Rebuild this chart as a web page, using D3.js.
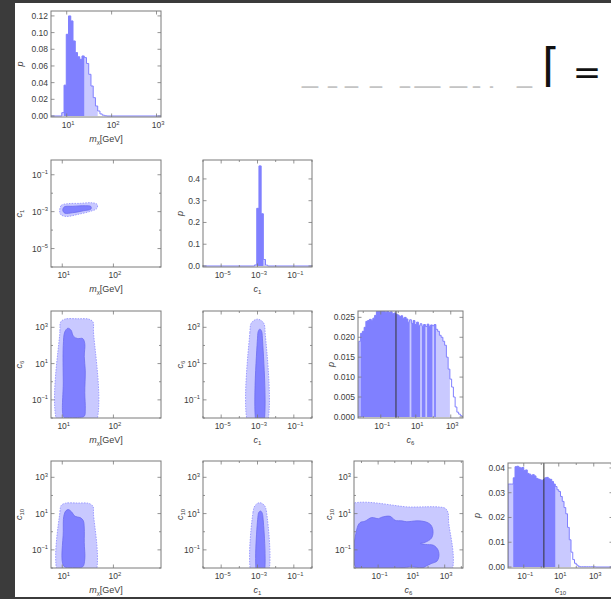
<!DOCTYPE html>
<meta charset="utf-8">
<style>
html, body { margin: 0; padding: 0; background: #fff; }
svg { display: block; font-family: 'Liberation Sans', Arial, sans-serif; }
</style>
<body>
<svg id="chart" width="611" height="599"></svg>
<script src="https://d3js.org/d3.v7.min.js"></script>
<script>
// ---------- data (log10 of the parameters) ----------
// 1D marginals: bin start, bin width (decades), probability, region (2 = 68%, 1 = 95%, 0 = tail)
var mxHistStart = 0.89, mxHistStep = 0.05;
var mxHistP = [0.004, 0.037, 0.098, 0.120, 0.114, 0.090, 0.076, 0.071, 0.068, 0.072,
               0.070, 0.063, 0.050, 0.036, 0.022, 0.012, 0.006, 0.0025, 0.001, 0.0003];
var mxHistLevel = [1,2,2,2,2,2,2,2,2,2, 1,1,1,1,1,1,0,0,0,0];

var c1HistStart = -3.16, c1HistStep = 0.12;
var c1HistP = [0.005, 0.265, 0.46, 0.24, 0.03, 0.004];
var c1HistLevel = [1,2,2,2,1,0];

var c6HistStart = -2.25, c6HistStep = 0.1;
var c6HistP = [19, 21, 21.5, 22.5, 24, 24.2, 24.5, 24.3, 24.8, 25.5,
               26.5, 27, 26.8, 26.6, 27, 26.3, 26.6, 26.2, 26.4, 25.9,
               26.1, 25.8, 25.6, 25.2, 25.4, 24.8, 25, 24.6, 23.8, 24.4,
               23.5, 24.2, 23.2, 23.8, 22.9, 23.4, 22.8, 23.2, 22.7, 23.3,
               22.8, 23.1, 22.9, 23.2, 22, 21.5, 20.5, 20, 19, 18,
               15, 12, 9.5, 7.5, 5, 2.5, 1.2, 0.7, 0.3, 0.1].map(function(v){ return v / 1000; });
var c6HistLevel = [1,2,2,2,2,2,2,2,2,2, 2,2,2,2,2,2,2,2,2,2, 2,2,2,2,2,2,2,2,2,1,
                   2,2,2,2,2,1,2,2,1,2, 2,2,1,2,1,1,1,1,1,1, 1,1,0,0,0,0,0,0,0,0];
var c6Best = -0.13;

var c10HistStart = -1.9, c10HistStep = 0.1;
var c10HistP = [33.5, 33.5, 33.5, 36, 40.5, 40.7, 40.3, 40, 40.2, 39,
                39.2, 37.8, 37.5, 37, 37.3, 36.8, 35.8, 35.5, 35.2, 35,
                35.3, 36, 36.2, 35.6, 35.4, 34.5, 33.5, 32.5, 31.2, 30.5,
                28.5, 26.5, 24, 21.5, 16, 11, 6, 3, 1.5, 0.8,
                0.3, 0.1, 0.1, 0.1, 0.1, 0.1, 0.1, 0.1, 0.1, 0.1].map(function(v){ return v / 1000; });
var c10HistLevel = [1,1,1,2,2,2,2,2,2,2, 2,2,2,2,2,2,2,2,2,2, 2,2,2,2,2,2,2,1,1,1,
                    1,1,1,1,1,1,0,0,0,0, 0,0,0,0,0,0,0,0,0,0];
var c10Best = 0.15;

// 2D credible regions, outer = 95%, inner = 68% : [log x, log y]
var mxC1Outer = [[0.95,-2.95],[0.98,-2.66],[1.1,-2.57],[1.35,-2.55],[1.58,-2.52],[1.68,-2.6],
                 [1.68,-2.82],[1.55,-2.98],[1.3,-3.15],[1.08,-3.26],[0.97,-3.16]];
var mxC1Inner = [[1.01,-2.92],[1.04,-2.74],[1.2,-2.71],[1.45,-2.68],[1.56,-2.72],[1.56,-2.86],
                 [1.42,-2.95],[1.2,-3.06],[1.05,-3.08]];

var mxC6Outer = [[0.955,-2.5],[0.955,2.8],[0.97,3.3],[1.05,3.45],[1.3,3.47],[1.52,3.45],
                 [1.6,3.3],[1.61,2.8],[1.61,-2.5]];
var mxC6Inner = [[1.03,-1.95],[1.02,0],[1.02,2.0],[1.05,2.75],[1.11,2.95],[1.17,2.85],[1.22,2.5],
                 [1.3,2.38],[1.4,2.38],[1.44,2.1],[1.43,1.4],[1.45,0.6],[1.44,-0.6],[1.45,-1.5],
                 [1.43,-1.9],[1.3,-1.97],[1.1,-1.97]];

var mxC10Outer = [[0.955,-2.5],[0.955,1.1],[0.98,1.45],[1.06,1.57],[1.3,1.58],[1.52,1.56],
                  [1.6,1.4],[1.61,1.0],[1.61,-2.5]];
var mxC10Inner = [[1.03,-1.9],[1.02,0],[1.03,0.85],[1.07,1.15],[1.12,1.22],[1.18,1.1],[1.25,0.85],
                  [1.35,0.78],[1.41,0.62],[1.43,0.2],[1.43,-0.6],[1.44,-1.5],[1.4,-1.93],[1.2,-1.97]];

var c1C6Outer = [[-3.42,-2.5],[-3.42,2.7],[-3.33,3.25],[-3.0,3.45],[-2.67,3.25],[-2.58,2.7],[-2.58,-2.5]];
var c1C6Inner = [[-3.0,-2.5],[-3.0,2.4],[-2.95,2.8],[-2.87,2.9],[-2.78,2.8],[-2.73,2.4],[-2.73,-2.5]];

var c1C10Outer = [[-3.25,-2.5],[-3.25,1.05],[-3.13,1.45],[-2.88,1.6],[-2.62,1.45],[-2.5,1.05],[-2.5,-2.5]];
var c1C10Inner = [[-2.98,-2.5],[-2.98,0.8],[-2.92,1.08],[-2.83,1.14],[-2.75,1.05],[-2.7,0.8],[-2.7,-2.5]];

var c6C10Outer = [[-3,-2.5],[-3,1.35],[1.0,1.36],[2.7,1.36],[3.05,1.28],[3.2,1.05],[3.23,0.6],[3.23,-2.5]];
var c6C10Inner = [[-2.29,-2.02],[-2.29,0.10],[-2.09,0.5],[-1.79,0.58],[-1.39,0.78],[-0.98,0.72],
                  [-0.78,0.8],[-0.28,0.85],[0.02,0.63],[0.42,0.6],[0.72,0.55],[1.33,0.6],
                  [1.83,0.55],[2.17,0.37],[2.3,0.0],[2.2,-0.36],[1.83,-0.58],[1.53,-0.64],
                  [1.83,-0.7],[2.33,-0.75],[2.6,-1.01],[2.65,-1.37],[2.53,-1.63],[2.23,-1.74],
                  [1.93,-1.87],[1.63,-2.0],[1.33,-1.96],[0.92,-1.93],[0.72,-1.96]];

// tick labels (exponents for log axes)
var mxTicksHist = [1, 2, 3], mxTicks = [1, 2];
var c1Ticks = [-5, -3, -1];
var c6Ticks = [-1, 1, 3];
var c10Ticks = [-1, 1, 3];
var mxPTicks = [0, 0.02, 0.04, 0.06, 0.08, 0.10, 0.12];
var c1PTicks = [0, 0.1, 0.2, 0.3, 0.4];
var c6PTicks = [0, 0.005, 0.010, 0.015, 0.020, 0.025];
var c10PTicks = [0, 0.01, 0.02, 0.03, 0.04];

// ---------- drawing ----------
var DARK = '#8080ff', LIGHT = '#c9c9ff', EDGE = '#8080ff';
var svg = d3.select('#chart');
svg.append('rect').attr('width', 611).attr('height', 599).attr('fill', '#fff');
var defs = svg.append('defs');
var nclip = 0;

function pow10(v) { return Math.pow(10, v); }

function addLabel(sel, name) {
  if (name == 'mx') {
    sel.append('tspan').attr('font-style', 'italic').text('m');
    sel.append('tspan').attr('font-size', 6).attr('dy', 2).text('χ');
    sel.append('tspan').attr('dy', -2).text('[GeV]');
  } else if (name == 'p') {
    sel.append('tspan').attr('font-style', 'italic').text('p');
  } else {
    sel.append('tspan').attr('font-style', 'italic').text('c');
    sel.append('tspan').attr('font-size', 6).attr('dy', 2).text(name.slice(1));
  }
}

function powLabel(sel, t) {
  sel.append('tspan').text('10');
  sel.append('tspan').attr('font-size', 5.8).attr('dy', -3.5).text(String(t).replace('-', '\u2212'));
}

function drawPanel(cfg) {
  var g = svg.append('g');
  var x0 = cfg.x, y0 = cfg.y, w = cfg.w, h = cfg.h;
  var sx = d3.scaleLog().domain([pow10(cfg.xdom[0]), pow10(cfg.xdom[1])]).range([x0, x0 + w]);
  var sy = cfg.ylog
    ? d3.scaleLog().domain([pow10(cfg.ydom[0]), pow10(cfg.ydom[1])]).range([y0 + h, y0])
    : d3.scaleLinear().domain(cfg.ydom).range([y0 + h, y0]);

  var id = 'clip' + (nclip++);
  defs.append('clipPath').attr('id', id).append('rect')
    .attr('x', x0).attr('y', y0).attr('width', w).attr('height', h);
  var plot = g.append('g').attr('clip-path', 'url(#' + id + ')');

  if (cfg.kind == 'hist') {
    var bins = cfg.p.map(function(p, i) {
      return { a: cfg.start + i * cfg.step, b: cfg.start + (i + 1) * cfg.step, p: p, lev: cfg.level[i] };
    });
    var stepArea = d3.area()
      .x(function(d) { return sx(pow10(d[0])); })
      .y0(sy(0))
      .y1(function(d) { return sy(d[1]); })
      .curve(d3.curveStepAfter);
    function runPts(list) {
      var pts = list.map(function(d) { return [d.a, d.p]; });
      pts.push([list[list.length - 1].b, list[list.length - 1].p]);
      return pts;
    }
    // light fill under the whole 95% range, then the 68% runs on top
    var inside = bins.filter(function(d) { return d.lev > 0; });
    plot.append('path').attr('d', stepArea(runPts(inside))).attr('fill', LIGHT);
    var runs = [], cur = [];
    bins.forEach(function(d) {
      if (d.lev == 2) cur.push(d);
      else if (cur.length) { runs.push(cur); cur = []; }
    });
    if (cur.length) runs.push(cur);
    runs.forEach(function(r) {
      plot.append('path').attr('d', stepArea(runPts(r))).attr('fill', DARK);
    });

    var pts = [[cfg.xdom[0], 0], [bins[0].a, 0]];
    bins.forEach(function(d) { pts.push([d.a, d.p]); });
    pts.push([bins[bins.length - 1].b, 0], [cfg.xdom[1], 0]);
    var line = d3.line()
      .x(function(d) { return sx(pow10(d[0])); })
      .y(function(d) { return sy(d[1]); })
      .curve(d3.curveStepAfter);
    plot.append('path').attr('d', line(pts)).attr('fill', 'none')
      .attr('stroke', EDGE).attr('stroke-width', 1);
    if (cfg.best != null) {
      plot.append('line')
        .attr('x1', sx(pow10(cfg.best))).attr('x2', sx(pow10(cfg.best)))
        .attr('y1', y0).attr('y2', y0 + h)
        .attr('stroke', '#333').attr('stroke-width', 1);
    }
  } else {
    var area = d3.line()
      .x(function(d) { return sx(pow10(d[0])); })
      .y(function(d) { return sy(pow10(d[1])); })
      .curve(d3.curveCatmullRomClosed.alpha(0.5));
    plot.append('path').attr('d', area(cfg.outer))
      .attr('fill', LIGHT).attr('stroke', '#9c9cff').attr('stroke-width', 1)
      .attr('stroke-dasharray', '1.5,1.2');
    plot.append('path').attr('d', area(cfg.inner))
      .attr('fill', DARK).attr('stroke', '#6c6cf0').attr('stroke-width', 0.8);
  }

  // frame
  g.append('rect').attr('x', x0).attr('y', y0).attr('width', w).attr('height', h)
    .attr('fill', 'none').attr('stroke', '#7a7a7a').attr('stroke-width', 1);

  var tk = g.append('g').attr('stroke', '#7a7a7a').attr('stroke-width', 0.8);
  var xmaj = cfg.xticks;
  d3.range(Math.ceil(cfg.xdom[0]), Math.floor(cfg.xdom[1]) + 1).forEach(function(t) {
    var len = xmaj.indexOf(t) >= 0 ? 3.5 : 2;
    var px = sx(pow10(t));
    tk.append('line').attr('x1', px).attr('x2', px).attr('y1', y0 + h).attr('y2', y0 + h - len);
    tk.append('line').attr('x1', px).attr('x2', px).attr('y1', y0).attr('y2', y0 + len);
  });
  var yvals = cfg.ylog
    ? d3.range(Math.ceil(cfg.ydom[0]), Math.floor(cfg.ydom[1]) + 1)
    : cfg.yticks;
  yvals.forEach(function(t) {
    var len = (!cfg.ylog || cfg.yticks.indexOf(t) >= 0) ? 3.5 : 2;
    var py = cfg.ylog ? sy(pow10(t)) : sy(t);
    tk.append('line').attr('x1', x0).attr('x2', x0 + len).attr('y1', py).attr('y2', py);
    tk.append('line').attr('x1', x0 + w).attr('x2', x0 + w - len).attr('y1', py).attr('y2', py);
  });

  var txt = g.append('g').attr('fill', '#3c3c3c').attr('font-size', 8.5);
  xmaj.forEach(function(t) {
    var s = txt.append('text').attr('x', sx(pow10(t)) + 1.5).attr('y', y0 + h + 11)
      .attr('text-anchor', 'middle');
    powLabel(s, t);
  });
  cfg.yticks.forEach(function(t) {
    if (cfg.ylog) {
      var s = txt.append('text').attr('x', x0 - 3).attr('y', sy(pow10(t)) + 3)
        .attr('text-anchor', 'end');
      powLabel(s, t);
    } else {
      txt.append('text').attr('x', x0 - 3).attr('y', sy(t) + 3)
        .attr('text-anchor', 'end').text(d3.format(cfg.yfmt)(t));
    }
  });

  var lab = g.append('g').attr('fill', '#3c3c3c').attr('font-size', 9);
  addLabel(lab.append('text').attr('x', x0 + w / 2).attr('y', y0 + h + 25)
    .attr('text-anchor', 'middle'), cfg.xlabel);
  var yl = lab.append('text').attr('text-anchor', 'middle')
    .attr('transform', 'translate(' + cfg.ylx + ',' + (y0 + h / 2) + ') rotate(-90)');
  addLabel(yl, cfg.ylabel);
}

var mxDom2 = [0.78, 2.93], c1Dom = [-6, 0], cDom2 = [-2, 3.9];

var panels = [
  { kind: 'hist', x: 51, y: 11, w: 110, h: 106, xdom: [0.65, 3.1], ydom: [-0.0012, 0.1259],
    xticks: mxTicksHist, yticks: mxPTicks, yfmt: '.2f', xlabel: 'mx', ylabel: 'p', ylx: 23,
    start: mxHistStart, step: mxHistStep, p: mxHistP, level: mxHistLevel },
  { kind: '2d', x: 51, y: 160, w: 110, h: 107, xdom: mxDom2, ydom: [-6, -0.2], ylog: true,
    xticks: mxTicks, yticks: c1Ticks, xlabel: 'mx', ylabel: 'c1', ylx: 22,
    outer: mxC1Outer, inner: mxC1Inner },
  { kind: 'hist', x: 203, y: 160, w: 109, h: 107, xdom: c1Dom, ydom: [-0.0046, 0.487],
    xticks: c1Ticks, yticks: c1PTicks, yfmt: '.1f', xlabel: 'c1', ylabel: 'p', ylx: 183,
    start: c1HistStart, step: c1HistStep, p: c1HistP, level: c1HistLevel },
  { kind: '2d', x: 51, y: 311, w: 110, h: 107, xdom: mxDom2, ydom: cDom2, ylog: true,
    xticks: mxTicks, yticks: c6Ticks, xlabel: 'mx', ylabel: 'c6', ylx: 22,
    outer: mxC6Outer, inner: mxC6Inner },
  { kind: '2d', x: 203, y: 311, w: 109, h: 107, xdom: c1Dom, ydom: cDom2, ylog: true,
    xticks: c1Ticks, yticks: c6Ticks, xlabel: 'c1', ylabel: 'c6', ylx: 183,
    outer: c1C6Outer, inner: c1C6Inner },
  { kind: 'hist', x: 358, y: 311, w: 105, h: 107, xdom: [-2.3, 3.7], ydom: [-0.00027, 0.0266],
    xticks: c6Ticks, yticks: c6PTicks, yfmt: '.3f', xlabel: 'c6', ylabel: 'p', ylx: 334,
    start: c6HistStart, step: c6HistStep, p: c6HistP, level: c6HistLevel, best: c6Best },
  { kind: '2d', x: 51, y: 461, w: 110, h: 107, xdom: mxDom2, ydom: cDom2, ylog: true,
    xticks: mxTicks, yticks: c10Ticks, xlabel: 'mx', ylabel: 'c10', ylx: 22,
    outer: mxC10Outer, inner: mxC10Inner },
  { kind: '2d', x: 203, y: 461, w: 109, h: 107, xdom: c1Dom, ydom: cDom2, ylog: true,
    xticks: c1Ticks, yticks: c10Ticks, xlabel: 'c1', ylabel: 'c10', ylx: 183,
    outer: c1C10Outer, inner: c1C10Inner },
  { kind: '2d', x: 354, y: 461, w: 109, h: 107, xdom: [-2.45, 4.1], ydom: cDom2, ylog: true,
    xticks: c6Ticks, yticks: c10Ticks, xlabel: 'c6', ylabel: 'c10', ylx: 332,
    outer: c6C10Outer, inner: c6C10Inner },
  { kind: 'hist', x: 508, y: 463, w: 105, h: 105, xdom: [-1.9, 4.1], ydom: [-0.0004, 0.042],
    xticks: c10Ticks, yticks: c10PTicks, yfmt: '.2f', xlabel: 'c10', ylabel: 'p', ylx: 480,
    start: c10HistStart, step: c10HistStep, p: c10HistP, level: c10HistLevel, best: c10Best }
];
panels.forEach(drawPanel);

// half-rendered notebook text in the top right
var ghost = [[302,318],[328,337],[345,358],[370,382],[400,410],[415,440],[450,467],[473,480],[490,493],[517,532]];
var gg = svg.append('g').attr('fill', '#c4c4c4').attr('font-size', 28);
ghost.forEach(function(d) {
  gg.append('text').attr('x', d[0]).attr('y', 81.5)
    .attr('textLength', d[1] - d[0]).attr('lengthAdjust', 'spacingAndGlyphs').text('_');
});
svg.append('text').attr('x', 551).attr('y', 81).attr('text-anchor', 'middle')
  .attr('font-family', 'DejaVu Sans').attr('font-size', 46)
  .attr('fill', '#111').text('\u2308');
svg.append('text').attr('x', 587).attr('y', 84).attr('text-anchor', 'middle')
  .attr('font-family', 'DejaVu Sans').attr('font-size', 34)
  .attr('fill', '#111').text('=');

// window edges
svg.append('rect').attr('x', 0).attr('y', 0).attr('width', 15).attr('height', 599).attr('fill', '#3b3b3b');
svg.append('rect').attr('x', 0).attr('y', 0).attr('width', 611).attr('height', 3).attr('fill', '#3b3b3b');
svg.append('rect').attr('x', 0).attr('y', 597).attr('width', 611).attr('height', 2).attr('fill', '#3b3b3b');
</script>
</body>
